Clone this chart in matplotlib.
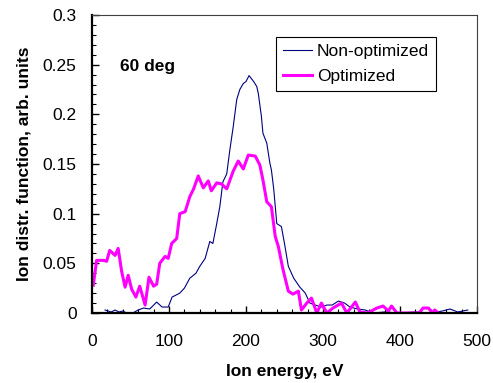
import numpy as np
import matplotlib.pyplot as plt
from matplotlib.ticker import MultipleLocator

plt.rcParams['font.family'] = ['Liberation Sans', 'DejaVu Sans']

# Non-optimized distribution
e_non = [17, 25, 30, 35, 40, 45, 53, 60, 67, 75, 84, 91, 99, 104, 114, 120, 127,
         135, 140, 147, 153, 157, 162, 166, 170, 175, 179, 183.5, 188, 192, 196.5,
         200, 204, 207, 210, 214, 216, 220, 222, 227, 231, 233, 236, 240, 246, 250,
         255, 262, 270, 277, 283, 290, 298, 305, 312, 320, 328, 335, 345, 355, 365,
         380, 400, 420, 440, 455, 465, 475, 488]
f_non = [0.003, 0.001, 0.003, 0.001, 0.002, 0.0, 0.0, 0.003, 0.005, 0.004, 0.011,
         0.006, 0.006, 0.016, 0.02, 0.025, 0.035, 0.04, 0.047, 0.055, 0.072, 0.07,
         0.09, 0.107, 0.132, 0.14, 0.164, 0.188, 0.215, 0.225, 0.231, 0.233, 0.239,
         0.236, 0.233, 0.228, 0.221, 0.198, 0.181, 0.171, 0.151, 0.144, 0.125, 0.09,
         0.087, 0.07, 0.047, 0.035, 0.026, 0.02, 0.01, 0.008, 0.006, 0.008, 0.008,
         0.012, 0.01, 0.006, 0.004, 0.003, 0.0, 0.001, 0.0, 0.001, 0.0, 0.002,
         0.004, 0.001, 0.003]

# Optimized distribution
e_opt = [1.7, 6, 15, 19, 23, 30, 34, 38.5, 43, 47, 51.5, 57, 62, 69, 74, 80, 84,
         88, 95, 99, 103.5, 110, 114, 121, 127, 132, 138, 144.6, 151, 155, 162,
         168, 175, 183.5, 190, 196.5, 203, 212, 218, 222, 227, 233, 238, 242, 248,
         255, 261, 268, 272, 279, 285, 292, 298, 305, 313, 324, 331, 342, 348, 358,
         370, 378, 385, 389, 396, 410, 425, 430, 437, 442, 445, 450]
f_opt = [0.028, 0.053, 0.053, 0.052, 0.063, 0.058, 0.065, 0.042, 0.026, 0.038,
         0.024, 0.016, 0.027, 0.008, 0.036, 0.027, 0.029, 0.05, 0.057, 0.055, 0.07,
         0.075, 0.1, 0.102, 0.117, 0.125, 0.138, 0.126, 0.133, 0.123, 0.131, 0.13,
         0.125, 0.143, 0.153, 0.145, 0.159, 0.158, 0.149, 0.134, 0.112, 0.107,
         0.077, 0.067, 0.044, 0.022, 0.019, 0.022, 0.003, 0.01, 0.015, 0.0, 0.01,
         0.0, 0.005, 0.01, 0.0, 0.011, 0.001, 0.0, 0.005, 0.007, 0.002, 0.007, 0.0,
         0.0, 0.0, 0.005, 0.005, 0.0, 0.003, 0.0]

fig = plt.figure(figsize=(4.93, 3.83), dpi=100)
ax = fig.add_axes([0.1866, 0.1828, 0.7809, 0.778])

ax.plot(e_non, f_non, color='#000080', lw=0.8, label='Non-optimized')
ax.plot(e_opt, f_opt, color='#ff00ff', lw=2.2, label='Optimized')

ax.set_xlim(0, 500)
ax.set_ylim(0, 0.3)
ax.xaxis.set_major_locator(MultipleLocator(100))
ax.xaxis.set_minor_locator(MultipleLocator(20))
ax.yaxis.set_minor_locator(MultipleLocator(0.01))
ax.set_yticks([0, 0.05, 0.1, 0.15, 0.2, 0.25, 0.3])
ax.set_yticklabels(['0', '0.05', '0.1', '0.15', '0.2', '0.25', '0.3'])
ax.tick_params(which='both', direction='in', labelsize=12.5, top=False, right=False)
ax.tick_params(which='major', length=5, width=1)
ax.tick_params(which='minor', length=3, width=0.8)
ax.tick_params(axis='x', pad=15)
ax.tick_params(axis='y', pad=11)

for s in ['left', 'bottom']:
    ax.spines[s].set_linewidth(1.6)
    ax.spines[s].set_color('black')
for s in ['top', 'right']:
    ax.spines[s].set_linewidth(0.8)
    ax.spines[s].set_color('#404040')

ax.set_xlabel('Ion energy, eV', fontsize=12.5, fontweight='bold', labelpad=11)
ax.set_ylabel('Ion distr. function, arb. units', fontsize=12.5, fontweight='bold',
              labelpad=8)
ax.text(36, 0.248, '60 deg', fontsize=12.5, fontweight='bold', va='center')

leg = ax.legend(loc='upper left', bbox_to_anchor=(0.478, 0.926), fontsize=12.5,
                fancybox=False, edgecolor='black', framealpha=1,
                handlelength=1.7, handletextpad=0.25, borderpad=0.4,
                labelspacing=0.55, borderaxespad=0)
leg.get_frame().set_linewidth(0.8)

fig.savefig('out.png', dpi=100)
